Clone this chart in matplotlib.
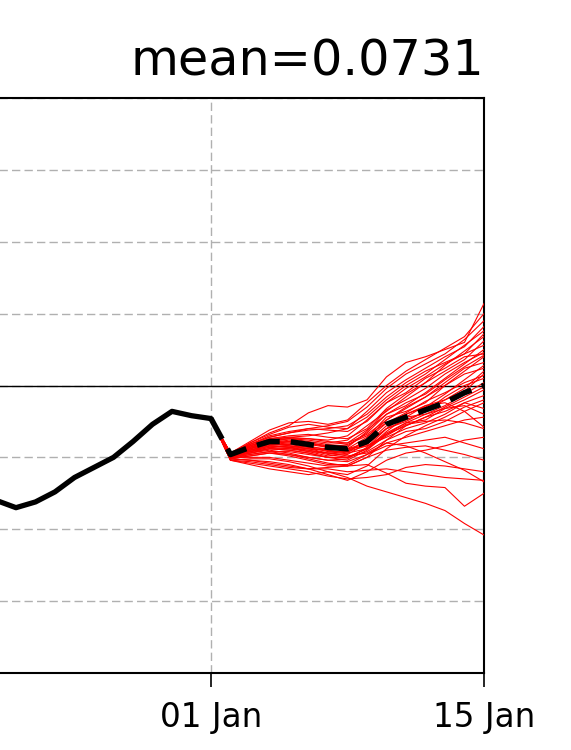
import datetime as dt

import matplotlib
matplotlib.use("Agg")
import matplotlib.dates as mdates
import matplotlib.pyplot as plt
import numpy as np

# observed index, daily, 18 Dec - 01 Jan
obs_start = dt.date(2019, 12, 18)
obs_values = [-0.62, -0.70, -0.76, -0.80, -0.85, -0.81, -0.74, -0.64, -0.57,
              -0.50, -0.39, -0.27, -0.18, -0.21, -0.23]

# ensemble forecast members, daily 02 Jan - 15 Jan (start from last obs)
members = [
    [-0.47, -0.40, -0.33, -0.28, -0.19, -0.14, -0.15, -0.10, 0.06, 0.16, 0.20, 0.25, 0.30, 0.57],
    [-0.48, -0.41, -0.36, -0.33, -0.30, -0.28, -0.25, -0.15, -0.02, 0.08, 0.15, 0.22, 0.32, 0.45],
    [-0.49, -0.42, -0.37, -0.36, -0.35, -0.33, -0.30, -0.22, -0.10, 0.00, 0.08, 0.18, 0.28, 0.38],
    [-0.47, -0.43, -0.38, -0.37, -0.38, -0.40, -0.38, -0.28, -0.18, -0.08, 0.02, 0.10, 0.18, 0.31],
    [-0.48, -0.44, -0.40, -0.38, -0.40, -0.42, -0.42, -0.33, -0.20, -0.14, -0.05, 0.05, 0.15, 0.25],
    [-0.50, -0.44, -0.39, -0.40, -0.42, -0.45, -0.44, -0.36, -0.22, -0.18, -0.12, 0.00, 0.10, 0.20],
    [-0.49, -0.45, -0.41, -0.41, -0.43, -0.46, -0.46, -0.38, -0.26, -0.20, -0.15, -0.06, 0.04, 0.14],
    [-0.48, -0.43, -0.40, -0.42, -0.44, -0.47, -0.48, -0.40, -0.28, -0.22, -0.14, -0.10, -0.02, 0.10],
    [-0.47, -0.42, -0.38, -0.39, -0.41, -0.43, -0.45, -0.41, -0.30, -0.25, -0.18, -0.08, 0.00, 0.05],
    [-0.49, -0.46, -0.42, -0.43, -0.45, -0.48, -0.50, -0.44, -0.32, -0.22, -0.20, -0.14, -0.06, 0.02],
    [-0.50, -0.47, -0.44, -0.45, -0.47, -0.50, -0.52, -0.45, -0.34, -0.26, -0.24, -0.16, -0.10, -0.03],
    [-0.48, -0.44, -0.41, -0.40, -0.40, -0.42, -0.44, -0.42, -0.36, -0.30, -0.26, -0.20, -0.12, -0.07],
    [-0.51, -0.48, -0.46, -0.46, -0.48, -0.50, -0.50, -0.46, -0.38, -0.32, -0.30, -0.25, -0.18, -0.12],
    [-0.49, -0.46, -0.43, -0.44, -0.46, -0.47, -0.46, -0.42, -0.34, -0.28, -0.22, -0.18, -0.12, -0.16],
    [-0.50, -0.47, -0.45, -0.47, -0.50, -0.52, -0.53, -0.48, -0.40, -0.36, -0.32, -0.28, -0.24, -0.22],
    [-0.48, -0.45, -0.42, -0.43, -0.44, -0.45, -0.47, -0.44, -0.35, -0.27, -0.25, -0.24, -0.26, -0.30],
    [-0.51, -0.49, -0.47, -0.49, -0.52, -0.55, -0.55, -0.48, -0.42, -0.40, -0.38, -0.36, -0.40, -0.44],
    [-0.50, -0.50, -0.50, -0.52, -0.54, -0.56, -0.56, -0.50, -0.45, -0.43, -0.42, -0.45, -0.48, -0.52],
    [-0.52, -0.53, -0.55, -0.57, -0.58, -0.58, -0.60, -0.59, -0.58, -0.60, -0.62, -0.64, -0.65, -0.66],
    [-0.51, -0.52, -0.54, -0.56, -0.58, -0.57, -0.56, -0.55, -0.61, -0.68, -0.70, -0.71, -0.84, -0.75],
    [-0.52, -0.55, -0.58, -0.60, -0.62, -0.60, -0.64, -0.70, -0.74, -0.78, -0.82, -0.87, -0.96, -1.04],
    [-0.49, -0.45, -0.42, -0.42, -0.43, -0.44, -0.44, -0.40, -0.30, -0.20, -0.14, -0.12, -0.18, -0.29],
    [-0.47, -0.41, -0.35, -0.32, -0.30, -0.31, -0.32, -0.25, -0.12, -0.05, 0.05, 0.12, 0.20, 0.22],
    [-0.48, -0.42, -0.37, -0.35, -0.34, -0.36, -0.37, -0.30, -0.16, -0.06, 0.02, 0.14, 0.24, 0.34],
    [-0.50, -0.47, -0.44, -0.44, -0.45, -0.47, -0.49, -0.47, -0.40, -0.42, -0.47, -0.53, -0.59, -0.67],
    [-0.49, -0.44, -0.39, -0.37, -0.37, -0.39, -0.40, -0.34, -0.24, -0.16, -0.08, 0.02, 0.12, 0.16],
    [-0.47, -0.39, -0.31, -0.26, -0.25, -0.27, -0.24, -0.12, 0.00, 0.10, 0.18, 0.26, 0.34, 0.50],
    [-0.48, -0.40, -0.34, -0.29, -0.27, -0.29, -0.30, -0.18, -0.05, 0.04, 0.12, 0.20, 0.27, 0.41],
    [-0.49, -0.43, -0.38, -0.36, -0.37, -0.38, -0.35, -0.24, -0.12, -0.02, 0.06, 0.15, 0.22, 0.28],
    [-0.50, -0.46, -0.43, -0.42, -0.44, -0.45, -0.43, -0.32, -0.17, -0.10, -0.02, 0.08, 0.16, 0.23],
    [-0.49, -0.45, -0.42, -0.43, -0.46, -0.49, -0.47, -0.37, -0.24, -0.15, -0.08, 0.00, 0.08, 0.12],
    [-0.51, -0.49, -0.47, -0.48, -0.50, -0.52, -0.51, -0.43, -0.30, -0.24, -0.18, -0.10, -0.04, 0.08],
    [-0.50, -0.48, -0.46, -0.48, -0.51, -0.54, -0.56, -0.50, -0.38, -0.28, -0.22, -0.15, -0.08, -0.01],
    [-0.52, -0.51, -0.51, -0.53, -0.56, -0.60, -0.62, -0.56, -0.44, -0.35, -0.28, -0.22, -0.15, -0.10],
    [-0.51, -0.52, -0.53, -0.55, -0.58, -0.62, -0.66, -0.60, -0.52, -0.47, -0.45, -0.42, -0.38, -0.36],
    [-0.52, -0.54, -0.56, -0.58, -0.60, -0.63, -0.65, -0.64, -0.62, -0.57, -0.55, -0.56, -0.58, -0.60],
    [-0.48, -0.42, -0.38, -0.37, -0.39, -0.41, -0.40, -0.31, -0.20, -0.12, -0.06, 0.04, 0.13, 0.21],
    [-0.49, -0.44, -0.40, -0.39, -0.40, -0.43, -0.41, -0.35, -0.26, -0.19, -0.11, -0.05, 0.02, 0.07],
    [-0.50, -0.46, -0.44, -0.45, -0.47, -0.50, -0.50, -0.44, -0.33, -0.26, -0.20, -0.16, -0.14, -0.20],
    [-0.47, -0.41, -0.36, -0.33, -0.31, -0.30, -0.28, -0.20, -0.08, 0.02, 0.10, 0.16, 0.22, 0.36],
]
# ensemble mean as drawn (02 Jan - 15 Jan)
ens_mean = [-0.48, -0.43, -0.39, -0.39, -0.41, -0.43, -0.44, -0.39, -0.27,
            -0.22, -0.17, -0.12, -0.05, 0.00]
title_text = "mean=0.0731"

obs_dates = [obs_start + dt.timedelta(days=i) for i in range(len(obs_values))]
fc_dates = [obs_dates[-1] + dt.timedelta(days=i) for i in range(len(ens_mean) + 1)]

fig = plt.figure(figsize=(5.71, 7.5), dpi=100)
# axes runs off the left edge of the picture
ax = fig.add_axes([-0.1086, 0.1027, 0.9562, 0.7666])

for m in members:
    ax.plot(fc_dates, [obs_values[-1]] + m, color='red', lw=0.8, zorder=3)
ax.plot(obs_dates, obs_values, color='black', lw=3.8, zorder=4,
        solid_capstyle='round')
ax.plot(fc_dates, [obs_values[-1]] + ens_mean, color='black', lw=4.0,
        dashes=(4.2, 2.0), zorder=5)
ax.axhline(0, color='black', lw=1.0, zorder=2)

ax.set_xlim(obs_dates[0], fc_dates[-1])
ax.set_ylim(-2, 2)
ax.set_yticks(np.arange(-2, 2.01, 0.5))
ax.set_xticks([obs_dates[-1], fc_dates[-1]])
ax.xaxis.set_major_formatter(mdates.DateFormatter('%d %b'))
ax.grid(True, color='#b0b0b0', lw=1.0, linestyle=(0, (6, 3)), zorder=1)
ax.tick_params(axis='x', labelsize=23.5, length=10, width=1.2, pad=10)
# y labels sit outside the visible picture
ax.tick_params(axis='y', length=10, width=1.2, labelleft=False)
for s in ax.spines.values():
    s.set_linewidth(1.5)

ax.set_title(title_text, loc='right', fontsize=35.5, pad=16)

fig.savefig('out.png', dpi=100)
